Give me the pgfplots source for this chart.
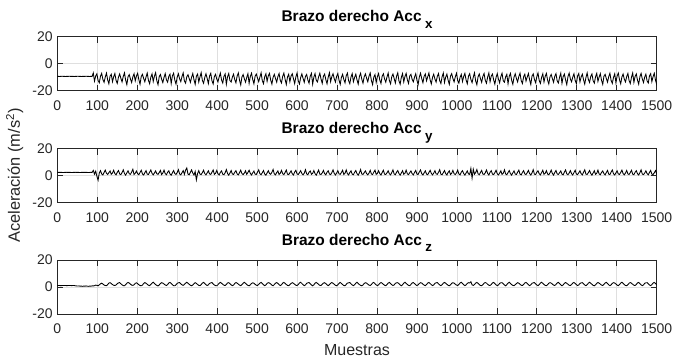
\documentclass[border=0pt]{standalone}
\usepackage{pgfplots}
\pgfplotsset{compat=1.18}
\usepackage{pgfplotstable}
\usepackage{fontspec}
\setmainfont{Liberation Sans}
\definecolor{axcol}{RGB}{38,38,38}
\definecolor{gridcol}{RGB}{223,223,223}

% Acc x, one value every 3 samples
\pgfplotstableread[row sep=\\]{v\\
-9.5\\ -9.5\\ -9.6\\ -9.5\\ -9.4\\ -9.5\\ -9.5\\ -9.6\\ -9.5\\ -9.5\\
-9.4\\ -9.5\\ -9.5\\ -9.5\\ -9.6\\ -9.5\\ -9.5\\ -9.4\\ -9.5\\ -9.5\\
-9.6\\ -9.5\\ -9.5\\ -9.5\\ -9.4\\ -9.5\\ -9.5\\ -9.6\\ -9.5\\ -9.5\\
-7.0\\ -13.0\\ -9.2\\ -7.6\\ -12.6\\ -14.2\\ -9.4\\ -7.3\\ -11.8\\ -13.9\\ -10.0\\ -7.1\\ -12.2\\ -15.0\\ -9.3\\ -8.0\\ -13.4\\ -9.8\\ -7.4\\ -12.5\\ -14.7\\ -10.1\\ -7.7\\ -10.9\\ -13.6\\ -9.5\\ -6.9\\ -12.3\\ -15.6\\ -9.7\\ -8.2\\ -11.5\\ -14.0\\ -9.9\\ -7.6\\ -12.8\\ -9.2\\ -7.2\\ -11.9\\ -15.3\\
-9.6\\ -8.0\\ -11.0\\ -13.5\\ -9.9\\ -7.1\\ -12.4\\ -14.9\\ -10.1\\ -7.7\\ -13.3\\ -9.3\\ -6.8\\ -12.7\\ -15.7\\ -9.7\\ -8.1\\ -11.6\\ -14.1\\ -10.3\\ -7.5\\ -12.1\\ -13.8\\ -9.5\\ -7.9\\ -14.8\\ -9.1\\ -7.2\\ -12.3\\ -15.2\\ -10.0\\ -7.6\\ -11.3\\ -13.4\\ -9.6\\ -7.0\\ -12.9\\ -14.5\\ -9.8\\ -8.3\\
-11.1\\ -13.9\\ -10.2\\ -7.4\\ -12.0\\ -15.4\\ -9.4\\ -7.8\\ -13.7\\ -9.9\\ -6.8\\ -12.5\\ -14.6\\ -10.4\\ -7.6\\ -11.0\\ -14.8\\ -9.2\\ -7.3\\ -12.8\\ -15.1\\ -9.7\\ -8.0\\ -11.5\\ -13.6\\ -10.0\\ -7.1\\ -12.2\\ -14.4\\ -9.5\\ -7.7\\ -15.3\\ -9.8\\ -7.4\\ -12.6\\ -13.7\\ -10.1\\ -7.9\\ -11.9\\ -14.3\\
-9.3\\ -7.0\\ -12.4\\ -15.8\\ -9.9\\ -8.2\\ -11.2\\ -13.8\\ -10.3\\ -7.5\\ -14.6\\ -9.6\\ -7.2\\ -11.8\\ -15.0\\ -9.4\\ -7.8\\ -10.8\\ -13.4\\ -10.0\\ -6.9\\ -12.7\\ -14.9\\ -9.8\\ -7.6\\ -13.2\\ -9.1\\ -7.3\\ -12.3\\ -15.2\\ -10.2\\ -8.0\\ -11.1\\ -13.8\\ -9.7\\ -7.4\\ -12.5\\ -14.4\\ -9.5\\ -7.1\\
-11.6\\ -15.5\\ -10.0\\ -7.9\\ -13.5\\ -9.2\\ -7.6\\ -11.3\\ -14.8\\ -9.9\\ -7.0\\ -12.8\\ -15.1\\ -10.4\\ -7.7\\ -11.0\\ -13.9\\ -9.6\\ -8.1\\ -12.2\\ -14.6\\ -9.3\\ -7.3\\ -15.3\\ -10.1\\ -7.5\\ -12.4\\ -13.6\\ -9.8\\ -7.2\\ -11.5\\ -14.7\\ -9.4\\ -7.8\\ -12.0\\ -15.0\\ -10.0\\ -6.8\\ -13.4\\ -9.7\\
-7.6\\ -11.2\\ -13.7\\ -9.5\\ -7.4\\ -12.3\\ -15.4\\ -10.2\\ -8.0\\ -11.8\\ -14.3\\ -9.1\\ -7.1\\ -12.7\\ -14.9\\ -9.9\\ -7.5\\ -13.4\\ -10.3\\ -7.9\\ -12.1\\ -15.2\\ -9.6\\ -7.2\\ -11.6\\ -14.5\\ -9.8\\ -7.7\\ -10.9\\ -13.5\\ -9.4\\ -7.0\\ -12.5\\ -15.6\\ -10.1\\ -8.2\\ -14.0\\ -9.7\\ -7.4\\ -12.2\\
-14.8\\ -9.3\\ -7.6\\ -11.4\\ -13.8\\ -10.0\\ -7.1\\ -12.6\\ -15.0\\ -9.8\\ -7.8\\ -11.1\\ -14.4\\ -9.5\\ -6.9\\ -12.9\\ -15.3\\ -10.2\\ -7.5\\ -13.6\\ -9.6\\ -7.3\\ -12.0\\ -14.7\\ -9.2\\ -8.0\\ -11.7\\ -13.5\\ -10.1\\ -7.6\\ -12.4\\ -15.5\\ -9.9\\ -7.2\\ -11.2\\ -14.2\\ -9.4\\ -7.7\\ -12.8\\ -9.8\\
-7.0\\ -12.1\\ -15.1\\ -10.3\\ -7.9\\ -11.5\\ -13.7\\ -9.5\\ -7.4\\ -12.7\\ -14.8\\ -9.7\\ -7.1\\ -14.0\\ -10.0\\ -7.8\\ -12.3\\ -15.4\\ -9.3\\ -7.5\\ -11.0\\ -13.6\\ -9.9\\ -7.2\\ -12.6\\ -14.5\\ -10.2\\ -8.1\\ -13.3\\ -9.6\\ -7.3\\ -12.2\\ -15.0\\ -9.4\\ -7.6\\ -11.8\\ -14.1\\ -10.1\\ -6.9\\ -12.9\\
-15.7\\ -9.8\\ -7.7\\ -11.3\\ -13.9\\ -9.5\\ -7.4\\ -12.5\\ -14.6\\ -10.0\\ -7.0\\ -13.5\\ -9.2\\ -7.8\\ -12.1\\ -15.2\\ -10.3\\ -7.5\\ -11.6\\ -14.3\\ -9.7\\ -7.2\\ -12.8\\ -13.8\\ -9.9\\ -8.0\\ -14.9\\ -9.4\\ -7.3\\ -12.4\\ -15.3\\ -10.1\\ -7.6\\ -11.1\\ -13.6\\ -9.6\\ -7.1\\ -12.7\\ -14.8\\ -9.8\\
-7.9\\ -13.0\\ -10.0\\ -7.4\\ -12.0\\ -15.5\\ -9.3\\ -7.7\\ -11.7\\ -14.2\\ -9.9\\ -7.0\\ -12.6\\ -14.7\\ -10.2\\ -7.6\\ -13.7\\ -9.5\\ -7.3\\ -12.3\\ -15.1\\ -9.8\\ -8.1\\ -11.2\\ -13.9\\ -9.4\\ -7.5\\ -12.9\\ -14.4\\ -10.1\\ -7.2\\ -14.6\\ -9.6\\ -7.8\\ -12.2\\ -15.6\\ -9.7\\ -7.1\\ -11.4\\ -13.5\\
-10.0\\ -7.6\\ -12.5\\ -14.9\\ -9.2\\ -7.4\\ -13.6\\ -9.9\\ -7.9\\ -12.0\\ -15.2\\ -10.3\\ -7.0\\ -11.8\\ -14.0\\ -9.5\\ -7.7\\ -12.8\\ -14.5\\ -9.8\\ -7.3\\ -13.2\\ -10.0\\ -7.5\\ -12.4\\ -15.4\\ -9.4\\ -8.0\\ -11.1\\ -13.8\\ -9.7\\ -7.2\\ -12.6\\ -14.7\\ -10.2\\ -7.6\\ -14.2\\ -9.3\\ -7.1\\ -12.1\\
-15.0\\ -9.9\\ -7.8\\ -11.6\\ -13.6\\ -9.6\\ -7.4\\ -12.7\\ -14.8\\ -10.1\\ -7.0\\ -13.9\\ -9.5\\ -7.7\\ -12.3\\ -15.3\\ -9.8\\ -7.3\\ -11.4\\ -14.1\\ -10.0\\ -7.9\\ -12.9\\ -14.4\\ -9.2\\ -7.5\\ -13.4\\ -9.7\\ -7.2\\ -12.2\\ -15.5\\ -10.3\\ -7.6\\ -11.0\\ -13.7\\ -9.4\\ -7.1\\ -12.5\\ -14.6\\ -9.9\\
}\datax

% Acc y
\pgfplotstableread[row sep=\\]{v\\
2.3\\ 2.3\\ 2.4\\ 2.3\\ 2.3\\ 2.2\\ 2.3\\ 2.3\\ 2.4\\ 2.3\\
2.3\\ 2.3\\ 2.2\\ 2.3\\ 2.3\\ 2.4\\ 2.3\\ 2.3\\ 2.3\\ 2.2\\
2.3\\ 2.3\\ 2.4\\ 2.3\\ 2.3\\ 2.3\\ 2.2\\ 2.3\\ 2.4\\ 2.3\\
3.8\\ 1.0\\ 3.2\\ -0.5\\ -3.5\\ 1.8\\ 3.6\\ 1.2\\ 0.4\\ 2.3\\ 4.0\\ 1.6\\ 0.8\\ 2.1\\ 3.4\\ 0.9\\ 1.9\\ 3.9\\ 1.4\\ 0.5\\ 2.4\\ 3.7\\ 1.1\\ 0.7\\ 2.2\\ 4.2\\ 1.5\\ 0.3\\ 2.0\\ 3.5\\ 1.3\\ 0.9\\ 2.6\\ 4.6\\ 0.8\\ 1.7\\ 3.3\\ 1.4\\ 0.6\\ 2.3\\
3.9\\ 1.2\\ 0.4\\ 2.1\\ 3.6\\ 1.0\\ 0.8\\ 2.5\\ 4.1\\ 1.6\\ 0.5\\ 1.9\\ 3.4\\ 1.3\\ 0.9\\ 2.2\\ 3.8\\ 0.7\\ 1.8\\ 4.0\\ 1.4\\ 0.6\\ 2.4\\ 3.5\\ 1.1\\ 0.3\\ 2.0\\ 3.7\\ 1.5\\ 0.8\\ 2.3\\ 4.3\\ 1.2\\ 0.5\\ 2.1\\ 3.6\\ 0.9\\ 4.0\\ 5.6\\ 1.0\\
0.6\\ 2.4\\ 4.2\\ 1.8\\ 0.4\\ 3.0\\ -3.2\\ 1.5\\ 3.6\\ 1.1\\ 0.7\\ 2.2\\ 3.9\\ 1.4\\ 0.5\\ 2.0\\ 3.5\\ 1.2\\ 0.8\\ 2.5\\ 4.1\\ 0.9\\ 1.6\\ 3.8\\ 1.3\\ 0.4\\ 2.3\\ 3.4\\ 1.0\\ 0.6\\ 2.1\\ 4.4\\ 1.5\\ 0.3\\ 1.9\\ 3.7\\ 1.1\\ 0.8\\ 2.4\\ 3.6\\
1.2\\ 0.5\\ 2.2\\ 4.0\\ 1.4\\ 0.7\\ 1.8\\ 3.5\\ 0.9\\ 2.3\\ 3.9\\ 1.6\\ 0.4\\ 2.0\\ 3.3\\ 1.0\\ 0.8\\ 2.5\\ 4.2\\ 1.3\\ 0.6\\ 2.1\\ 3.7\\ 1.1\\ 0.3\\ 1.9\\ 3.6\\ 1.5\\ 0.9\\ 2.4\\ 4.5\\ 1.2\\ 0.5\\ 2.2\\ 3.4\\ 0.8\\ 1.7\\ 3.8\\ 1.4\\ 0.6\\
2.3\\ 4.1\\ 1.0\\ 0.7\\ 2.0\\ 3.5\\ 1.3\\ 0.4\\ 2.6\\ 3.9\\ 1.1\\ 0.8\\ 2.1\\ 3.6\\ 1.5\\ 0.5\\ 1.8\\ 4.3\\ 1.2\\ 0.6\\ 2.4\\ 3.4\\ 0.9\\ 1.6\\ 3.7\\ 1.4\\ 0.3\\ 2.2\\ 4.0\\ 1.0\\ 0.8\\ 2.0\\ 3.8\\ 1.3\\ 0.5\\ 2.5\\ 3.5\\ 1.1\\ 0.7\\ 2.1\\
4.2\\ 1.6\\ 0.4\\ 1.9\\ 3.6\\ 1.2\\ 0.9\\ 2.3\\ 3.9\\ 0.8\\ 1.7\\ 4.1\\ 1.4\\ 0.5\\ 2.2\\ 3.5\\ 1.0\\ 0.6\\ 2.4\\ 3.7\\ 1.3\\ 0.3\\ 2.0\\ 4.4\\ 1.1\\ 0.8\\ 2.1\\ 3.4\\ 1.5\\ 0.5\\ 1.8\\ 3.8\\ 1.2\\ 0.7\\ 2.5\\ 4.0\\ 0.9\\ 1.6\\ 3.6\\ 1.4\\
0.4\\ 2.3\\ 3.9\\ 1.0\\ 0.8\\ 2.0\\ 3.5\\ 1.3\\ 0.5\\ 2.2\\ 4.2\\ 1.1\\ 0.6\\ 2.4\\ 3.7\\ 1.5\\ 0.3\\ 1.9\\ 3.6\\ 0.9\\ 1.7\\ 4.0\\ 1.2\\ 0.7\\ 2.1\\ 3.4\\ 1.4\\ 0.5\\ 2.3\\ 3.8\\ 1.0\\ 0.8\\ 2.6\\ 4.1\\ 1.3\\ 0.4\\ 2.0\\ 3.5\\ 1.1\\ 0.6\\
2.2\\ 3.9\\ 1.6\\ 0.5\\ 1.8\\ 3.6\\ 1.2\\ 0.9\\ 2.4\\ 4.3\\ 1.0\\ 0.6\\ 2.1\\ 3.7\\ 1.4\\ 0.4\\ 2.3\\ 3.5\\ 0.8\\ 1.7\\ 3.8\\ 1.3\\ 0.7\\ 2.0\\ 4.0\\ 1.1\\ 0.5\\ 2.5\\ 3.6\\ 1.5\\ 0.3\\ 1.9\\ 3.4\\ 1.2\\ 0.8\\ 5.2\\ -1.8\\ 4.6\\ 1.0\\ 2.2\\
4.4\\ 1.3\\ 0.6\\ 2.3\\ 3.8\\ 1.1\\ 0.8\\ 2.0\\ 4.1\\ 1.5\\ 0.4\\ 2.4\\ 3.6\\ 1.0\\ 0.7\\ 2.1\\ 3.9\\ 1.3\\ 0.5\\ 1.8\\ 3.5\\ 0.9\\ 1.6\\ 4.2\\ 1.2\\ 0.6\\ 2.2\\ 3.7\\ 1.4\\ 0.3\\ 2.0\\ 3.4\\ 1.1\\ 0.8\\ 2.5\\ 4.0\\ 1.0\\ 0.5\\ 2.3\\ 3.6\\
1.2\\ 0.7\\ 2.1\\ 3.8\\ 1.4\\ 0.4\\ 1.9\\ 4.3\\ 1.0\\ 0.8\\ 2.4\\ 3.5\\ 1.3\\ 0.5\\ 2.2\\ 3.9\\ 0.9\\ 1.7\\ 3.6\\ 1.1\\ 0.6\\ 2.0\\ 4.0\\ 1.5\\ 0.3\\ 2.3\\ 3.7\\ 1.2\\ 0.8\\ 2.1\\ 3.4\\ 1.0\\ 0.5\\ 2.5\\ 4.1\\ 1.3\\ 0.6\\ 1.8\\ 3.6\\ 1.4\\
0.4\\ 2.2\\ 3.9\\ 1.1\\ 0.7\\ 2.0\\ 3.5\\ 1.3\\ 0.5\\ 2.4\\ 4.2\\ 1.0\\ 0.8\\ 2.1\\ 3.7\\ 1.5\\ 0.3\\ 1.9\\ 3.6\\ 0.9\\ 1.6\\ 4.0\\ 1.2\\ 0.6\\ 2.3\\ 3.4\\ 1.4\\ 0.5\\ 2.2\\ 3.8\\ 1.0\\ 0.7\\ 2.6\\ 4.1\\ 1.3\\ 0.4\\ 2.0\\ 3.5\\ 1.1\\ 0.8\\
2.3\\ 4.0\\ 1.5\\ 0.5\\ 1.9\\ 3.7\\ 1.2\\ 0.8\\ 2.2\\ 3.9\\ 1.0\\ 0.6\\ 2.4\\ 3.6\\ 1.3\\ 0.4\\ 2.1\\ 4.2\\ 1.1\\ 0.7\\ 1.8\\ 3.5\\ 1.4\\ 0.5\\ 2.3\\ 3.8\\ 1.0\\ 0.8\\ 2.0\\ 3.6\\ 1.2\\ 4.0\\ 1.5\\ 0.9\\ 2.1\\ 1.0\\ 3.0\\ 1.2\\ 2.0\\ 1.5\\
}\datay

% Acc z
\pgfplotstableread[row sep=\\]{v\\
1.1\\ 1.1\\ 1.1\\ 1.0\\ 1.1\\ 1.1\\ 1.1\\ 1.1\\ 1.0\\ 1.1\\ 1.1\\ 1.1\\ 1.0\\ 1.1\\ 1.1\\
0.9\\ 0.8\\ 0.7\\ 0.8\\ 0.6\\ 0.7\\ 0.5\\ 0.7\\ 0.6\\ 0.8\\ 0.6\\ 0.5\\ 0.7\\ 0.6\\ 0.8\\
0.8\\ 1.0\\ 1.4\\ 1.2\\ 0.9\\ 1.6\\ 2.4\\ 2.8\\ 2.2\\ 1.5\\ 1.1\\ 1.0\\ 1.8\\ 2.9\\ 3.2\\ 2.6\\ 1.8\\ 1.3\\ 1.1\\ 1.5\\ 2.5\\ 3.0\\ 3.3\\ 2.4\\ 1.6\\ 1.0\\ 0.9\\ 1.7\\ 2.8\\ 3.4\\ 2.9\\ 2.1\\ 1.4\\ 1.2\\ 1.6\\ 2.7\\ 3.1\\ 2.5\\ 1.7\\ 1.1\\
0.9\\ 1.4\\ 2.6\\ 3.3\\ 2.8\\ 2.0\\ 1.3\\ 1.0\\ 1.9\\ 2.9\\ 3.5\\ 2.7\\ 1.8\\ 1.2\\ 0.8\\ 1.5\\ 2.6\\ 3.2\\ 2.9\\ 2.2\\ 1.5\\ 1.1\\ 1.8\\ 3.0\\ 3.4\\ 2.6\\ 1.7\\ 1.0\\ 0.9\\ 1.6\\ 2.7\\ 3.1\\ 3.3\\ 2.4\\ 1.6\\ 1.2\\ 1.9\\ 2.8\\ 3.5\\ 2.8\\
2.0\\ 1.3\\ 0.9\\ 1.5\\ 2.5\\ 3.2\\ 2.7\\ 1.9\\ 1.2\\ 1.0\\ 1.8\\ 2.9\\ 3.4\\ 2.6\\ 1.7\\ 1.1\\ 1.6\\ 2.7\\ 3.0\\ 3.3\\ 2.3\\ 1.5\\ 1.0\\ 0.9\\ 1.7\\ 2.8\\ 3.4\\ 2.8\\ 2.0\\ 1.3\\ 1.1\\ 1.9\\ 3.0\\ 3.2\\ 2.5\\ 1.6\\ 1.0\\ 1.4\\ 2.6\\ 3.3\\
2.9\\ 2.1\\ 1.4\\ 1.0\\ 1.7\\ 2.8\\ 3.5\\ 2.7\\ 1.8\\ 1.2\\ 0.9\\ 1.6\\ 2.6\\ 3.1\\ 2.8\\ 2.0\\ 1.3\\ 1.1\\ 1.9\\ 2.9\\ 3.4\\ 2.5\\ 1.6\\ 1.0\\ 1.5\\ 2.7\\ 3.2\\ 3.0\\ 2.2\\ 1.4\\ 0.9\\ 1.8\\ 2.8\\ 3.3\\ 2.6\\ 1.7\\ 1.1\\ 1.6\\ 2.9\\ 3.4\\
2.7\\ 1.9\\ 1.2\\ 1.0\\ 1.7\\ 2.6\\ 3.2\\ 2.8\\ 2.0\\ 1.3\\ 1.1\\ 1.8\\ 3.0\\ 3.5\\ 2.6\\ 1.7\\ 1.0\\ 1.5\\ 2.7\\ 3.1\\ 3.3\\ 2.4\\ 1.5\\ 0.9\\ 1.6\\ 2.8\\ 3.4\\ 2.7\\ 1.9\\ 1.2\\ 1.1\\ 2.0\\ 2.9\\ 3.2\\ 2.5\\ 1.6\\ 1.0\\ 1.7\\ 2.8\\ 3.3\\
2.8\\ 2.0\\ 1.3\\ 0.9\\ 1.6\\ 2.7\\ 3.4\\ 2.6\\ 1.8\\ 1.1\\ 1.0\\ 1.9\\ 2.9\\ 3.1\\ 3.3\\ 2.3\\ 1.5\\ 1.0\\ 1.7\\ 2.8\\ 3.5\\ 2.7\\ 1.8\\ 1.2\\ 0.9\\ 1.5\\ 2.6\\ 3.2\\ 2.9\\ 2.1\\ 1.4\\ 1.1\\ 1.8\\ 3.0\\ 3.4\\ 2.5\\ 1.6\\ 1.0\\ 1.6\\ 2.7\\
3.3\\ 2.8\\ 2.0\\ 1.3\\ 1.0\\ 1.8\\ 2.9\\ 3.4\\ 2.6\\ 1.7\\ 1.1\\ 1.5\\ 2.7\\ 3.1\\ 3.2\\ 2.4\\ 1.5\\ 0.9\\ 1.7\\ 2.8\\ 3.5\\ 2.7\\ 1.9\\ 1.2\\ 1.0\\ 1.9\\ 3.0\\ 3.3\\ 2.5\\ 1.6\\ 1.1\\ 1.6\\ 2.6\\ 3.2\\ 2.9\\ 2.1\\ 1.4\\ 1.0\\ 1.8\\ 2.9\\
3.4\\ 2.6\\ 1.7\\ 1.1\\ 1.5\\ 2.7\\ 3.1\\ 3.3\\ 2.3\\ 1.5\\ 1.0\\ 1.7\\ 2.8\\ 3.4\\ 2.8\\ 2.0\\ 1.3\\ 0.9\\ 1.6\\ 2.7\\ 3.2\\ 2.9\\ 2.1\\ 1.4\\ 1.1\\ 1.9\\ 3.0\\ 3.5\\ 2.6\\ 1.7\\ 1.0\\ 1.6\\ 2.6\\ 3.2\\ 3.0\\ 3.9\\ 1.6\\ 1.2\\ 1.8\\ 2.9\\
3.4\\ 2.7\\ 1.8\\ 1.1\\ 1.0\\ 1.7\\ 2.8\\ 3.3\\ 2.9\\ 2.0\\ 1.3\\ 1.1\\ 1.9\\ 3.0\\ 3.4\\ 2.5\\ 1.6\\ 1.0\\ 1.5\\ 2.7\\ 3.1\\ 3.2\\ 2.4\\ 1.5\\ 0.9\\ 1.8\\ 2.9\\ 3.5\\ 2.7\\ 1.8\\ 1.2\\ 1.0\\ 1.7\\ 2.6\\ 3.2\\ 2.8\\ 2.0\\ 1.3\\ 1.1\\ 1.9\\
3.0\\ 3.4\\ 2.6\\ 1.7\\ 1.0\\ 1.6\\ 2.7\\ 3.1\\ 3.3\\ 2.3\\ 1.5\\ 1.0\\ 1.8\\ 2.9\\ 3.5\\ 2.7\\ 1.9\\ 1.2\\ 1.0\\ 1.7\\ 2.8\\ 3.2\\ 2.9\\ 2.1\\ 1.4\\ 1.1\\ 1.9\\ 3.0\\ 3.4\\ 2.5\\ 1.6\\ 0.9\\ 1.6\\ 2.7\\ 3.3\\ 2.8\\ 2.0\\ 1.3\\ 1.1\\ 1.8\\
2.9\\ 3.4\\ 2.6\\ 1.7\\ 1.1\\ 1.5\\ 2.6\\ 3.1\\ 3.2\\ 2.4\\ 1.5\\ 1.0\\ 1.7\\ 2.8\\ 3.5\\ 2.8\\ 2.0\\ 1.2\\ 0.9\\ 1.6\\ 2.7\\ 3.3\\ 2.9\\ 2.1\\ 1.4\\ 1.1\\ 1.9\\ 3.0\\ 3.4\\ 2.5\\ 1.6\\ 1.0\\ 1.6\\ 2.7\\ 3.2\\ 3.0\\ 2.2\\ 1.4\\ 1.0\\ 1.8\\
2.9\\ 3.5\\ 2.7\\ 1.8\\ 1.1\\ 1.0\\ 1.7\\ 2.8\\ 3.3\\ 2.8\\ 2.0\\ 1.3\\ 1.1\\ 1.9\\ 3.0\\ 3.4\\ 2.5\\ 1.6\\ 1.0\\ 1.5\\ 2.7\\ 3.1\\ 3.2\\ 2.3\\ 1.5\\ 1.0\\ 1.8\\ 2.9\\ 3.4\\ 2.6\\ 1.7\\ 1.1\\ 0.8\\ 1.5\\ 2.5\\ 3.1\\ 2.6\\ 1.8\\ 1.2\\ 1.0\\
}\dataz

\pgfplotsset{
  every axis title shift=0pt,
  mlstyle/.style={
    scale only axis, width=449.5pt, height=40.5pt,
    anchor=north west,
    xmin=0, xmax=1500, ymin=-20, ymax=20,
    xtick={0,100,...,1500}, ytick={-20,0,20},
    grid=major, major grid style={gridcol, line width=0.5pt},
    axis line style={axcol, line width=0.5pt},
    tick style={axcol, line width=0.5pt},
    major tick length=4.5pt,
    tick align=inside, tick pos=both,
    ticklabel style={font=\fontsize{10.5pt}{12pt}\selectfont, text=axcol},
    /pgf/number format/assume math mode=true,
    /pgf/number format/1000 sep={},
    scaled ticks=false,
    xticklabel style={yshift=-4pt},
    title style={font=\bfseries\fontsize{11.6pt}{13pt}\selectfont, text=black,
      at={(axis description cs:0.5,1)}, anchor=base, yshift=11pt},
    label style={font=\fontsize{12pt}{14pt}\selectfont, text=axcol},
  },
  sig/.style={black, line width=0.65pt, mark=none},
}

\newcommand{\subx}[1]{\hspace{2.5pt}\raisebox{-5pt}{\fontsize{10pt}{10pt}\selectfont #1}}

\begin{document}
\begin{tikzpicture}
\path[use as bounding box] (0,0) rectangle (505.5pt,270pt);

\begin{axis}[mlstyle, at={(43pt,242.6pt)},
  title={Brazo derecho Acc\subx{x}}]
\addplot[sig] table[x expr=\coordindex*3, y=v]{\datax};
\end{axis}

\begin{axis}[mlstyle, at={(43pt,158.6pt)},
  title={Brazo derecho Acc\subx{y}},
  ylabel={Aceleración (m/s\textsuperscript{2})},
  ylabel style={at={(axis description cs:-0.0623,0.5)}, anchor=base,
    font=\fontsize{12.3pt}{14pt}\selectfont}]
\addplot[sig] table[x expr=\coordindex*3, y=v]{\datay};
\end{axis}

\begin{axis}[mlstyle, at={(43pt,75pt)},
  title={Brazo derecho Acc\subx{z}},
  xlabel={Muestras},
  xlabel style={at={(axis description cs:0.5,-0.768)}, anchor=base}]
\addplot[sig] table[x expr=\coordindex*3, y=v]{\dataz};
\end{axis}
\end{tikzpicture}
\end{document}
